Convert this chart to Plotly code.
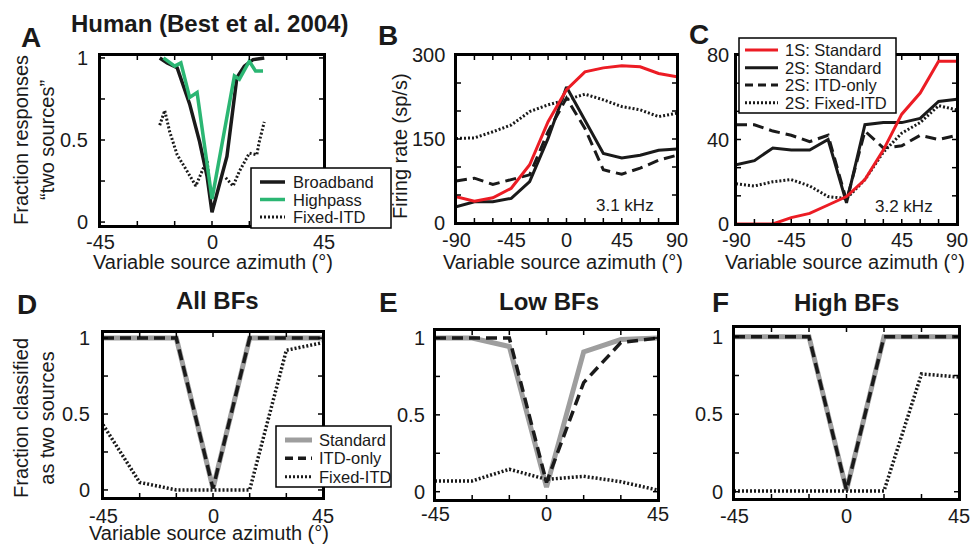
import plotly.graph_objects as go

FONT = "Liberation Sans, Arial, Helvetica, sans-serif"
W, H = 975, 549
INK = "#1a1a1a"
RED = "#ec1c24"
GREEN = "#2bb673"
GRAY = "#9e9e9e"

REF_AZ = 0  # reference source azimuth (triangle marker)

# ---------------- Panel A: Human (Best et al. 2004) ----------------
A_BB_X = [-21, -18, -14, -9, -5, -2, 0, 3, 6, 10, 13, 16.5, 21]
A_BB_Y = [1.0, 0.97, 0.94, 0.72, 0.49, 0.28, 0.06, 0.23, 0.40, 0.88, 0.95, 0.99, 1.0]
A_HP_X = [-19.5, -15, -12.5, -9, -6, 0, 9, 11, 15, 17.5, 20.5]
A_HP_Y = [1.0, 0.95, 0.97, 0.76, 0.79, 0.14, 0.89, 0.87, 0.98, 0.92, 0.92]
A_FX_X = [-21, -19, -17, -14, -10, -6.5, -4, -2, -1, None, 5.5, 8.5, 11, 15, 18, 19, 21]
A_FX_Y = [0.59, 0.68, 0.55, 0.41, 0.31, 0.22, 0.31, 0.38, 0.22, None, 0.27, 0.22, 0.31, 0.42, 0.41, 0.49, 0.61]

# ---------------- Panel B: 3.1 kHz neuron ----------------
B_X = [-90, -75, -60, -45, -30, -15, 0, 15, 30, 45, 60, 75, 90]
B_1S_STD = [47, 39, 45, 62, 104, 181, 238, 270, 277, 281, 279, 267, 261]
B_2S_STD = [29, 38, 38, 44, 74, 151, 243, 184, 124, 116, 121, 130, 132]
B_2S_ITD = [75, 80, 69, 77, 86, 163, 223, 169, 95, 87, 98, 112, 121]
B_2S_FIX = [151, 152, 163, 175, 199, 211, 220, 230, 220, 208, 202, 190, 196]

# ---------------- Panel C: 3.2 kHz neuron ----------------
C_X = [-90, -75, -60, -45, -30, -15, 0, 15, 30, 45, 60, 75, 90]
C_1S_STD = [0, 0, 0, 3, 5, 9, 13, 21, 35, 52, 62, 77, 77]
C_2S_STD = [28, 30, 36, 35, 35, 40, 10, 47, 48, 48, 50, 58, 59]
C_2S_ITD = [47, 47, 44, 42, 39, 42, 11, 44, 36, 37, 42, 40, 42]
C_2S_FIX = [19, 18, 20, 21, 18, 13, 12, 21, 34, 43, 48, 56, 54]

# ---------------- Panels D-F: fraction classified ----------------
DEF_X = [-45, -30, -15, 0, 15, 30, 45]
D_STD = [1, 1, 1, 0.01, 1, 1, 1]
D_ITD = [1, 1, 1, 0.01, 1, 1, 1]
D_FIX = [0.43, 0.05, 0.0, 0.0, 0.0, 0.92, 0.97]
E_STD = [1.0, 1.0, 0.945, 0.03, 0.91, 0.99, 1.0]
E_ITD = [1.0, 1.0, 1.0, 0.06, 0.71, 0.97, 1.0]
E_FIX = [0.07, 0.07, 0.146, 0.08, 0.10, 0.065, 0.01]
F_STD = [1, 1, 1, 0.01, 1, 1, 1]
F_ITD = [1, 1, 1, 0.01, 1, 1, 1]
F_FIX = [0.005, 0.005, 0.005, 0.005, 0.005, 0.76, 0.74]

# tick marks (every position) and labelled ticks
AZ45_TICKS = [-45, -30, -15, 0, 15, 30, 45]
AZ45_LABELS = ["-45", "", "", "0", "", "", "45"]
AZ90_TICKS = [-90, -75, -60, -45, -30, -15, 0, 15, 30, 45, 60, 75, 90]
AZ90_LABELS = ["-90", "", "", "-45", "", "", "0", "", "", "45", "", "", "90"]
FRAC_TICKS = [0, 0.25, 0.5, 0.75, 1]
FRAC_LABELS = ["0", "", "0.5", "", "1"]
RATE_B_TICKS = [0, 50, 100, 150, 200, 250, 300]
RATE_B_LABELS = ["0", "", "", "150", "", "", "300"]
RATE_C_TICKS = [0, 80 / 6, 160 / 6, 40, 320 / 6, 400 / 6, 80]
RATE_C_LABELS = ["0", "", "", "40", "", "", "80"]

# panel geometry in pixels: (suffix, (left,right), (top,bottom), xrange, yrange, xticks, yticks,
#                            triangle, y-label gap, x-label drop)
PANELS = [
    ("",  (100, 324), (55, 226),  [-45, 45], [-0.024, 1.018], (AZ45_TICKS, AZ45_LABELS), (FRAC_TICKS, FRAC_LABELS), True, 10, 16.5),
    ("2", (456, 677), (55, 223),  [-90, 90], [0, 300],        (AZ90_TICKS, AZ90_LABELS), (RATE_B_TICKS, RATE_B_LABELS), True, 9, 17),
    ("3", (736, 957), (55, 224),  [-90, 90], [0, 80],         (AZ90_TICKS, AZ90_LABELS), (RATE_C_TICKS, RATE_C_LABELS), False, 5, 16),
    ("4", (103, 323), (332, 498), [-45, 45], [-0.053, 1.04],  (AZ45_TICKS, AZ45_LABELS), (FRAC_TICKS, FRAC_LABELS), True, 11, 18),
    ("5", (435, 658), (330, 500), [-45, 45], [-0.054, 1.052], (AZ45_TICKS, AZ45_LABELS), (FRAC_TICKS, FRAC_LABELS), True, 8, 14),
    ("6", (734, 959), (327, 499), [-45, 45], [-0.047, 1.063], (AZ45_TICKS, AZ45_LABELS), (FRAC_TICKS, FRAC_LABELS), True, 9, 17),
]

DASH = "11px,6px"
DOT = "2px,2px"
TICKLEN = 5

fig = go.Figure()


def add_line(sfx, x, y, color, width, dash="solid", clip=True):
    fig.add_trace(go.Scatter(
        x=x, y=y, mode="lines", showlegend=False, hoverinfo="skip",
        line=dict(color=color, width=width, dash=dash),
        xaxis="x" + sfx, yaxis="y" + sfx, connectgaps=False, cliponaxis=clip,
    ))


# Panel A
add_line("", A_FX_X, A_FX_Y, INK, 3, DOT)
add_line("", A_BB_X, A_BB_Y, INK, 3.5)
add_line("", A_HP_X, A_HP_Y, GREEN, 3.5)
# Panel B
add_line("2", B_X, B_2S_FIX, INK, 3, DOT)
add_line("2", B_X, B_2S_ITD, INK, 3, DASH)
add_line("2", B_X, B_2S_STD, INK, 3)
add_line("2", B_X, B_1S_STD, RED, 3)
# Panel C
add_line("3", C_X, C_2S_FIX, INK, 3, DOT)
add_line("3", C_X, C_2S_ITD, INK, 3, DASH)
add_line("3", C_X, C_2S_STD, INK, 3)
add_line("3", C_X, C_1S_STD, RED, 3)
# Panels D-F
for sfx, std, itd, fix in (("4", D_STD, D_ITD, D_FIX), ("5", E_STD, E_ITD, E_FIX), ("6", F_STD, F_ITD, F_FIX)):
    add_line(sfx, DEF_X, std, GRAY, 5)
    add_line(sfx, DEF_X, itd, INK, 3.5, DASH)
    add_line(sfx, DEF_X, fix, INK, 3.5, DOT)

layout = dict(
    template="none",
    width=W, height=H, margin=dict(l=0, r=0, t=0, b=0, pad=0, autoexpand=False),
    paper_bgcolor="white", plot_bgcolor="white", showlegend=False,
    font=dict(family=FONT, color=INK),
)

ann = []
shapes = []


def text(x, y, s, size=20, bold=False, angle=0, xanchor="center", xref="paper", yref="paper"):
    if xref == "paper":
        x = x / W
    if yref == "paper":
        y = 1 - y / H
    ann.append(dict(x=x, y=y, xref=xref, yref=yref, text=("<b>%s</b>" % s) if bold else s,
                    showarrow=False, textangle=angle, xanchor=xanchor, yanchor="middle",
                    font=dict(family=FONT, size=size, color=INK)))


for (sfx, (l, r), (t, b), xr, yr, (xtv, xtt), (ytv, ytt), tri, ygap, xdrop) in PANELS:
    ax_common = dict(showline=True, linecolor="black", linewidth=2, mirror=True,
                     ticks="", showticklabels=False, showgrid=False,
                     zeroline=False, fixedrange=True, automargin=False)
    layout["xaxis" + sfx] = dict(ax_common, domain=[l / W, r / W], range=xr, anchor="y" + sfx)
    layout["yaxis" + sfx] = dict(ax_common, domain=[1 - b / H, 1 - t / H], range=yr, anchor="x" + sfx)
    xa, ya = "x" + sfx, "y" + sfx
    x0, x1 = xr
    y0, y1 = yr
    # box frame, drawn as an unclipped trace along the axis ranges
    add_line(sfx, [x0, x1, x1, x0, x0], [y0, y0, y1, y1, y0], "black", 2, clip=False)
    # inward ticks on all four sides (length converted from pixels to data units)
    dx = TICKLEN * (x1 - x0) / (r - l)
    dy = TICKLEN * (y1 - y0) / (b - t)
    tx, ty = [], []
    for v, lab in zip(xtv, xtt):
        tx += [v, v, None, v, v, None]
        ty += [y0, y0 + dy, None, y1, y1 - dy, None]
        if lab:
            text(v, b + xdrop, lab, xref=xa)
    for v, lab in zip(ytv, ytt):
        tx += [x0, x0 + dx, None, x1, x1 - dx, None]
        ty += [v, v, None, v, v, None]
        if lab:
            ann.append(dict(x=(l - ygap) / W, y=v, xref="paper", yref=ya, text=lab,
                            showarrow=False, xanchor="right", yanchor="middle",
                            font=dict(family=FONT, size=20, color=INK)))
    add_line(sfx, tx, ty, "black", 1.5, clip=False)
    if tri:
        span = y1 - y0
        fig.add_trace(go.Scatter(
            x=[REF_AZ], y=[y1 + 9 * span / (b - t)], mode="markers",
            marker=dict(symbol="triangle-down", size=14, color=INK),
            cliponaxis=False, showlegend=False, hoverinfo="skip",
            xaxis=xa, yaxis=ya))

fig.update_layout(**layout)

# panel letters
for letter, (lx, ly) in zip("ABCDEF", [(31, 37), (388, 36), (699, 34), (27, 304), (388, 302), (720, 303)]):
    text(lx, ly, letter, size=28, bold=True)
# titles
text(209, 23, "Human (Best et al. 2004)", size=24, bold=True)
text(217, 300, "All BFs", size=24, bold=True)
text(549, 301, "Low BFs", size=24, bold=True)
text(846, 302, "High BFs", size=24, bold=True)
# axis titles
text(34, 140, "Fraction responses<br>\u201ctwo sources\u201d", angle=-90)
text(400, 146, "Firing rate (sp/s)", angle=-90)
text(34, 418, "Fraction classified<br>as two sources", angle=-90)
for (cx, cy) in [(213, 262), (563, 262), (845, 262), (209, 533)]:
    text(cx, cy, "Variable source azimuth (\u00b0)")
# frequency labels
text(47.6, 32, "3.1 kHz", size=17, xref="x2", yref="y2")
text(46.8, 8.1, "3.2 kHz", size=17, xref="x3", yref="y3")


# manual legends (box, line samples, labels)
def legend(box, x0, x1, tx, rows):
    L, T, R, B = box
    shapes.append(dict(type="rect", xref="paper", yref="paper", x0=L / W, x1=R / W,
                       y0=1 - B / H, y1=1 - T / H, line=dict(color="black", width=1.5),
                       fillcolor="white", layer="above"))
    for (yy, color, width, dash, label) in rows:
        shapes.append(dict(type="line", xref="paper", yref="paper", x0=x0 / W, x1=x1 / W,
                           y0=1 - yy / H, y1=1 - yy / H, layer="above",
                           line=dict(color=color, width=width, dash=dash)))
        text(tx, yy, label, size=16.5, xanchor="left")


LDASH = "8px,5px"
legend((251, 168, 391, 228), 260, 285, 291, [
    (182, INK, 3.5, "solid", "Broadband"),
    (199.5, GREEN, 3.5, "solid", "Highpass"),
    (217, INK, 3, DOT, "Fixed-ITD"),
])
legend((739, 38, 896, 113), 745, 778, 783, [
    (50, RED, 3, "solid", "1S: Standard"),
    (67.7, INK, 3, "solid", "2S: Standard"),
    (85, INK, 3, LDASH, "2S: ITD-only"),
    (102.7, INK, 3, DOT, "2S: Fixed-ITD"),
])
legend((276, 426, 391, 487), 285, 312, 317, [
    (440, GRAY, 5, "solid", "Standard"),
    (458.3, INK, 3.5, LDASH, "ITD-only"),
    (476.7, INK, 3, DOT, "Fixed-ITD"),
])

fig.update_layout(annotations=ann, shapes=shapes)

POST = "document.body.style.margin='0';document.body.style.padding='0';"
fig.write_html("out.html", post_script=POST, config={"displayModeBar": False})
